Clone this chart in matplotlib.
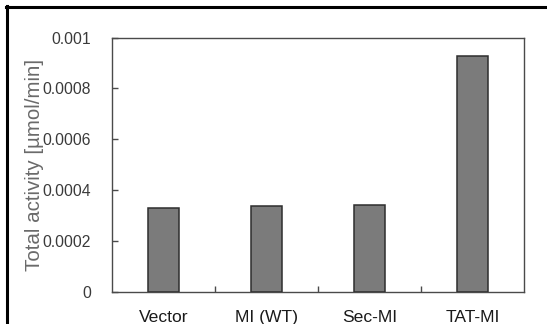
import matplotlib
matplotlib.use("Agg")
import matplotlib.pyplot as plt
from matplotlib.lines import Line2D
from matplotlib.ticker import FixedLocator, NullFormatter

categories = ["Vector", "MI (WT)", "Sec-MI", "TAT-MI"]
values = [0.000329, 0.000338, 0.000343, 0.000927]
yticks = [0, 0.0002, 0.0004, 0.0006, 0.0008, 0.001]
ytick_labels = ["0", "0.0002", "0.0004", "0.0006", "0.0008", "0.001"]

plt.rcParams['font.family'] = ['Liberation Sans', 'DejaVu Sans']

W, H = 547, 324
L, R, T, B = 112, 524, 37.5, 292
fig = plt.figure(figsize=(W/100, H/100), dpi=100)
ax = fig.add_axes([L/W, 1-B/H, (R-L)/W, (B-T)/H])

x = list(range(len(categories)))
ax.bar(x, values, width=0.31, color="#7b7b7b", edgecolor="#2e2e2e", linewidth=1.1, zorder=3)

ax.set_xlim(-0.5, len(categories)-0.5)
ax.set_ylim(0, 0.001)
ax.set_yticks(yticks)
ax.set_yticklabels(ytick_labels)
ax.set_xticks(x)
ax.set_xticklabels(categories)
ax.xaxis.set_minor_locator(FixedLocator([0.5, 1.5, 2.5]))
ax.xaxis.set_minor_formatter(NullFormatter())

for s in ax.spines.values():
    s.set_color("#4a4a4a")
    s.set_linewidth(1.0)

ax.tick_params(axis='y', direction='in', length=4.5, width=1, color="#4a4a4a",
               labelsize=11.3, labelcolor="#3a3a3a", pad=15)
ax.tick_params(axis='x', which='major', length=0, labelsize=12.6,
               labelcolor="#1a1a1a", pad=13)
ax.tick_params(axis='x', which='minor', direction='in', length=4, width=1,
               color="#4a4a4a")

ax.set_ylabel("Total activity [µmol/min]", fontsize=14.8, color="#6a6a6a")
ax.yaxis.set_label_coords((34.5 - L)/(R - L), 0.5)
ax.yaxis.label.set_verticalalignment('center')

# frame border lines (left and top)
fig.add_artist(Line2D([7/W, 7/W], [0, 1-6/H], color="black", linewidth=2.2,
                      transform=fig.transFigure))
fig.add_artist(Line2D([6/W, 1], [1-7/H, 1-7/H], color="black", linewidth=2.2,
                      transform=fig.transFigure))

fig.savefig("out.png", dpi=100)
